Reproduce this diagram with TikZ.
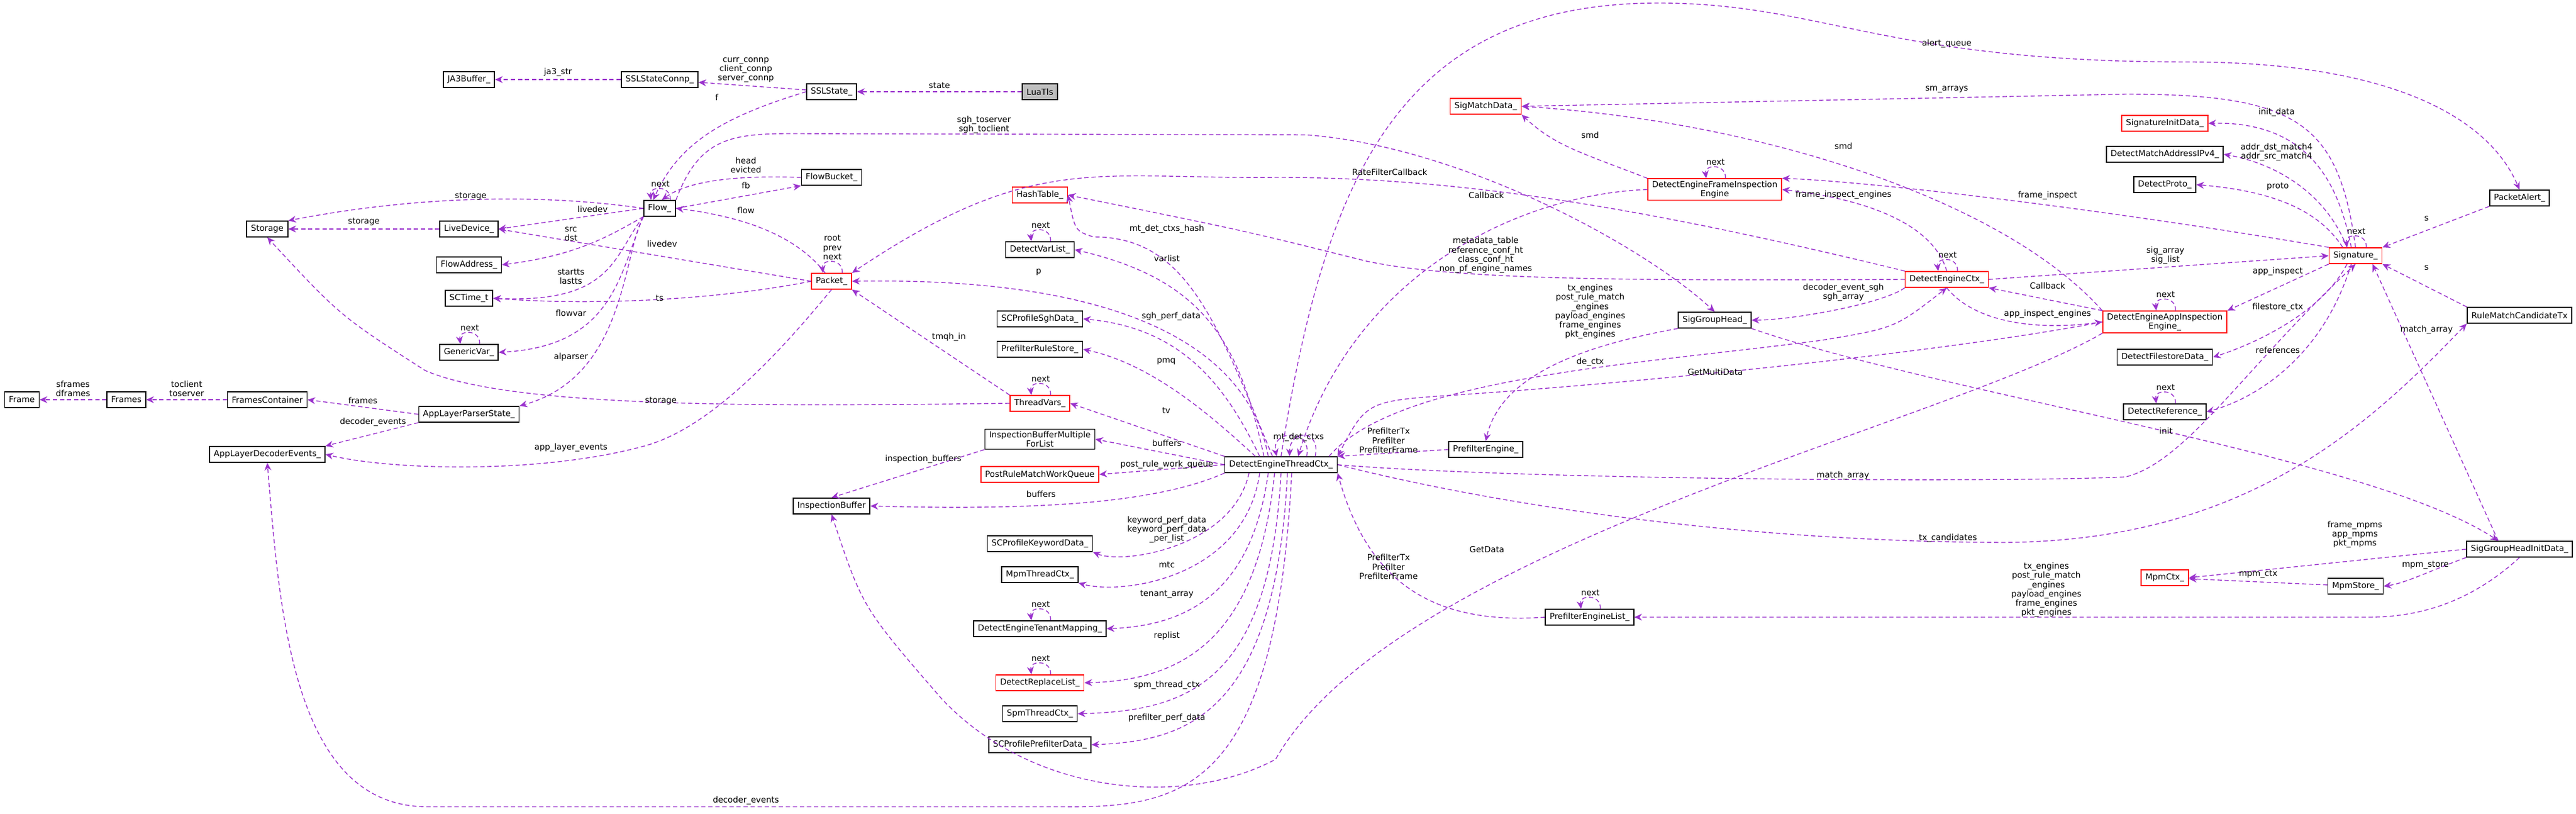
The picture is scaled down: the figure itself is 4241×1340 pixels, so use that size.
\documentclass[tikz,border=0pt]{standalone}
\usepackage{fontspec}
\setmainfont{DejaVu Sans}
\usetikzlibrary{arrows.meta,calc}

\definecolor{edgecol}{HTML}{9A32CD}
\definecolor{luafill}{HTML}{BFBFBF}

\tikzset{
  cls/.style={draw=black, line width=.45pt, fill=white, inner xsep=2pt, inner ysep=1pt,
    minimum height=0.26cm, align=center, font=\fontsize{3.9}{4.3}\selectfont},
  redcls/.style={cls, draw=red},
  rel/.style={draw=edgecol, dashed, dash pattern=on 2pt off 1.3pt, line width=.4pt,
    -{Stealth[length=3.6pt,width=3.2pt]}},
  lbl/.style={inner sep=0.4pt, align=center, font=\fontsize{3.9}{4.3}\selectfont}
}
\newcommand{\loopnext}[2]{%
  \draw[rel] ([xshift=5pt]#1.north) .. controls +(2,-24) and +(-3,-24) .. ([xshift=-4pt]#1.north)
    node[lbl,pos=0.5,above=0.5pt]{#2};}

\begin{document}
\begin{tikzpicture}[x=0.01cm,y=-0.01cm]
\useasboundingbox (0,0) rectangle (4241,1340);

% left part
\node[cls,fill=luafill] (luatls) at (1712,151) {LuaTls};
\node[cls] (sslstate) at (1369,151) {SSLState\_};
\node[cls] (sslconnp) at (1086,131) {SSLStateConnp\_};
\node[cls] (jabuf) at (772,131) {JA3Buffer\_};
\node[cls] (flow) at (1086,343) {Flow\_};
\node[cls] (flowbucket) at (1369,292) {FlowBucket\_};
\node[cls] (storage) at (440,377) {Storage};
\node[cls] (livedev) at (772,377) {LiveDevice\_};
\node[cls] (flowaddr) at (772,436) {FlowAddress\_};
\node[cls] (sctime) at (772,491) {SCTime\_t};
\node[cls] (genvar) at (772,580) {GenericVar\_};
\node[cls] (frame) at (36,658) {Frame};
\node[cls] (frames) at (208,658) {Frames};
\node[cls] (framescont) at (440,658) {FramesContainer};
\node[cls] (alpstate) at (772,682) {AppLayerParserState\_};
\node[cls] (aldecev) at (440,748) {AppLayerDecoderEvents\_};
\node[redcls] (packet) at (1369,463) {Packet\_};

% middle column
\node[redcls] (hashtab) at (1712,321) {HashTable\_};
\node[cls] (varlist) at (1712,411) {DetectVarList\_};
\node[cls] (sghdata) at (1712,525) {SCProfileSghData\_};
\node[cls] (rulestore) at (1712,575) {PrefilterRuleStore\_};
\node[redcls] (tvars) at (1712,664) {ThreadVars\_};
\node[cls] (ibmulti) at (1712,723) {InspectionBufferMultiple\\ForList};
\node[redcls] (prwq) at (1712,781) {PostRuleMatchWorkQueue};
\node[cls] (ibuf) at (1369,833) {InspectionBuffer};
\node[cls] (kwdata) at (1712,895) {SCProfileKeywordData\_};
\node[cls] (mpmtc) at (1712,946) {MpmThreadCtx\_};
\node[cls] (tenant) at (1712,1035) {DetectEngineTenantMapping\_};
\node[redcls] (replist) at (1712,1124) {DetectReplaceList\_};
\node[cls] (spmtc) at (1712,1175) {SpmThreadCtx\_};
\node[cls] (pfdata) at (1712,1226) {SCProfilePrefilterData\_};
\node[cls] (detc) at (2109,765) {DetectEngineThreadCtx\_};
\node[cls] (pfeng) at (2446,740) {PrefilterEngine\_};
\node[cls] (pflist) at (2617,1016) {PrefilterEngineList\_};

% right part
\node[redcls] (smdata) at (2446,175) {SigMatchData\_};
\node[redcls] (defie) at (2823,312) {DetectEngineFrameInspection\\Engine};
\node[cls] (sgh) at (2823,527) {SigGroupHead\_};
\node[redcls] (dec) at (3205,460) {DetectEngineCtx\_};
\node[redcls] (sid) at (3564,203) {SignatureInitData\_};
\node[cls] (dmaddr) at (3564,254) {DetectMatchAddressIPv4\_};
\node[cls] (dproto) at (3564,304) {DetectProto\_};
\node[redcls] (sig) at (3878,421) {Signature\_};
\node[cls] (palert) at (4148,326) {PacketAlert\_};
\node[cls] (rmctx) at (4148,519) {RuleMatchCandidateTx};
\node[redcls] (deaie) at (3564,530) {DetectEngineAppInspection\\Engine\_};
\node[cls] (dfsd) at (3564,588) {DetectFilestoreData\_};
\node[cls] (dref) at (3564,678) {DetectReference\_};
\node[redcls] (mpmctx) at (3564,951) {MpmCtx\_};
\node[cls] (mpmstore) at (3878,965) {MpmStore\_};
\node[cls] (sghinit) at (4148,904) {SigGroupHeadInitData\_};

% SSL and flow
\draw[rel] (luatls) -- (sslstate) node[lbl,midway,above=1pt]{state};
\draw[rel] (sslstate) -- (sslconnp);
\node[lbl] at (1228,115) {curr\_connp\\client\_connp\\server\_connp};
\draw[rel] (sslconnp) -- (jabuf) node[lbl,midway,above=1pt]{ja3\_str};
\draw[rel] (sslstate.west) .. controls (1200,190) and (1120,230) .. ([xshift=-3pt]flow.north);
\node[lbl] at (1180,160) {f};
\loopnext{flow}{next}
\draw[rel] (flowbucket.west) .. controls (1200,288) and (1130,300) .. ([xshift=1pt]flow.north);
\node[lbl] at (1228,272) {head\\evicted};
\draw[rel] (flow.east) -- (flowbucket.south west);
\node[lbl] at (1228,305) {fb};
\draw[rel] ([xshift=-3pt]packet.north) .. controls (1320,400) and (1250,360) .. (flow.east);
\node[lbl] at (1228,346) {flow};
\draw[rel] (flow.west) .. controls (900,320) and (700,320) .. (storage.north east);
\node[lbl] at (775,323) {storage};
\draw[rel] (flow.west) -- (livedev.east) node[lbl,pos=0.35,above=1pt]{livedev};
\draw[rel] (livedev) -- (storage) node[lbl,midway,above=1pt]{storage};
\draw[rel] (packet.west) -- (livedev.east);
\node[lbl] at (1090,401) {livedev};
\draw[rel] (flow.south west) .. controls (1000,390) and (950,420) .. (flowaddr.east);
\node[lbl] at (940,385) {src\\dst};
\draw[rel] (flow.south west) .. controls (1010,420) and (1010,500) .. (sctime.east);
\node[lbl] at (940,455) {startts\\lastts};
\draw[rel] (packet.west) .. controls (1200,490) and (1000,505) .. (sctime.east);
\node[lbl] at (1086,491) {ts};
\draw[rel] (flow.south west) .. controls (1020,450) and (1010,570) .. (genvar.east);
\node[lbl] at (940,515) {flowvar};
\loopnext{genvar}{next}
\draw[rel] (flow.south west) .. controls (1025,420) and (1030,620) .. (alpstate.north east);
\node[lbl] at (940,588) {alparser};
\draw[rel] (alpstate.west) -- (framescont.east) node[lbl,midway,above=1pt]{frames};
\draw[rel] (framescont) -- (frames) node[lbl,midway,above=1pt]{toclient\\toserver};
\draw[rel] (frames) -- (frame) node[lbl,midway,above=1pt]{sframes\\dframes};
\draw[rel] (alpstate.south west) -- (aldecev.north east);
\node[lbl] at (614,695) {decoder\_events};
\draw[rel] (packet.south) .. controls (1300,560) and (1180,700) .. (1065,733) .. controls (900,780) and (650,775) .. (aldecev.east);
\node[lbl] at (940,737) {app\_layer\_events};
\draw[rel] (tvars.west) .. controls (1300,668) and (850,675) .. (700,610) .. controls (560,520) .. (storage.south);
\node[lbl] at (1088,660) {storage};
\draw[rel] (tvars.north west) -- (packet.south east) node[lbl,midway,above right=0pt]{tmqh\_in};
\loopnext{tvars}{next}
\loopnext{packet}{root\\prev\\next}

% thread ctx
\draw[rel] ([xshift=-6pt]detc.north) .. controls (2060,600) and (1900,455) .. (packet.east);
\node[lbl] at (1710,448) {p};
\draw[rel] ([xshift=-4pt]detc.north) .. controls (2000,520) and (1950,390) .. (1800,390) .. controls (1770,380) .. (hashtab.east);
\node[lbl] at (1921,377) {mt\_det\_ctxs\_hash};
\draw[rel] ([xshift=-8pt]detc.north) .. controls (2040,560) and (1980,460) .. (varlist.east);
\node[lbl] at (1921,425) {varlist};
\loopnext{varlist}{next}
\draw[rel] ([xshift=-10pt]detc.north) .. controls (2020,640) and (1950,540) .. (sghdata.east);
\node[lbl] at (1928,521) {sgh\_perf\_data};
\draw[rel] ([xshift=-12pt]detc.north) .. controls (2000,690) and (1900,600) .. (rulestore.east);
\node[lbl] at (1920,595) {pmq};
\draw[rel] (detc.north west) -- (tvars.east);
\node[lbl] at (1920,676) {tv};
\draw[rel] (detc.west) -- (ibmulti.east);
\node[lbl] at (1921,729) {buffers};
\draw[rel] (detc.west) -- (prwq.east);
\node[lbl] at (1921,765) {post\_rule\_work\_queue};
\draw[rel] (detc.south west) .. controls (1900,830) and (1700,840) .. (ibuf.east);
\node[lbl] at (1714,813) {buffers};
\draw[rel] (ibmulti.south west) -- (ibuf.north);
\node[lbl] at (1520,756) {inspection\_buffers};
\draw[rel] ([xshift=-15pt]detc.south) .. controls (2030,900) and (1850,930) .. (kwdata.south east);
\node[lbl] at (1921,872) {keyword\_perf\_data\\keyword\_perf\_data\\\_per\_list};
\draw[rel] ([xshift=-10pt]detc.south) .. controls (2050,950) and (1850,980) .. (mpmtc.south east);
\node[lbl] at (1921,930) {mtc};
\draw[rel] ([xshift=-6pt]detc.south) .. controls (2060,980) and (1950,1030) .. (tenant.east);
\node[lbl] at (1921,978) {tenant\_array};
\loopnext{tenant}{next}
\draw[rel] ([xshift=-3pt]detc.south) .. controls (2070,1050) and (1950,1120) .. (replist.east);
\node[lbl] at (1921,1047) {replist};
\loopnext{replist}{next}
\draw[rel] (detc.south) .. controls (2090,1130) and (1950,1170) .. (spmtc.east);
\node[lbl] at (1921,1128) {spm\_thread\_ctx};
\draw[rel] ([xshift=3pt]detc.south) .. controls (2100,1180) and (1950,1220) .. (pfdata.east);
\node[lbl] at (1921,1182) {prefilter\_perf\_data};
\draw[rel] ([xshift=5pt]detc.south) .. controls (2100,1300) and (1950,1330) .. (1750,1328) -- (700,1328) .. controls (480,1325) and (460,1000) .. (aldecev.south);
\node[lbl] at (1228,1318) {decoder\_events};
\draw[rel] ([xshift=12pt]detc.north) .. controls +(10,-45) and +(-10,-45) .. ([xshift=-2pt]detc.north);
\draw[rel] ([xshift=16pt]detc.north) .. controls +(10,-45) and +(0,-45) .. ([xshift=4pt]detc.north);
\node[lbl] at (2138,720) {mt\_det\_ctxs};
\draw[rel] (pfeng.west) -- (detc.north east);
\node[lbl] at (2286,725) {PrefilterTx\\Prefilter\\PrefilterFrame};
\draw[rel] (pflist.west) .. controls (2350,1030) and (2250,950) .. (detc.south east);
\node[lbl] at (2286,933) {PrefilterTx\\Prefilter\\PrefilterFrame};
\loopnext{pflist}{next}
\draw[rel] (sgh.south west) .. controls (2600,570) and (2470,620) .. (pfeng.north);
\node[lbl] at (2618,513) {tx\_engines\\post\_rule\_match\\\_engines\\payload\_engines\\frame\_engines\\pkt\_engines};
\draw[rel] ([xshift=-4pt]detc.north east) .. controls (2300,620) and (2700,600) .. (3000,560) .. controls (3120,540) .. (dec.south);
\node[lbl] at (2618,596) {de\_ctx};
\draw[rel] (deaie.west) .. controls (3200,580) and (2700,630) .. (2400,650) .. controls (2250,660) .. (detc.north east);
\node[lbl] at (2824,612) {GetMultiData};
\draw[rel] (defie.west) .. controls (2500,320) and (2230,450) .. ([xshift=8pt]detc.north);
\node[lbl] at (2447,321) {Callback};
\draw[rel] (deaie.south west) .. controls (3200,700) and (2300,900) .. (2100,1250) .. controls (1950,1330) and (1700,1310) .. (1550,1150) .. controls (1420,1000) .. (ibuf.south);
\node[lbl] at (2448,905) {GetData};
\draw[rel] (detc.north) .. controls (2180,300) and (2300,5) .. (2730,5) .. controls (3000,5) and (3100,102) .. (3600,102) .. controls (3950,102) and (4100,200) .. (palert.north);
\node[lbl] at (3205,72) {alert\_queue};
\draw[rel] (detc.east) .. controls (2500,790) and (3300,795) .. (3500,785) .. controls (3600,760) and (3700,600) .. (sig.south);
\node[lbl] at (3034,783) {match\_array};
\draw[rel] (detc.east) .. controls (2500,840) and (2900,892) .. (3300,893) .. controls (3700,890) and (3900,700) .. (rmctx.south west);
\node[lbl] at (3207,886) {tx\_candidates};

% detect engine ctx and signatures
\draw[rel] (flow.north east) .. controls (1150,230) and (1200,220) .. (1300,220) -- (2150,222) .. controls (2400,240) and (2700,400) .. (sgh.north);
\node[lbl] at (1620,205) {sgh\_toserver\\sgh\_toclient};
\draw[rel] (dec.north west) .. controls (2700,340) and (2400,292) .. (2100,292) .. controls (1800,295) and (1700,250) .. (packet.north east);
\node[lbl] at (2288,283) {RateFilterCallback};
\draw[rel] (dec.west) .. controls (2700,462) and (2400,462) .. (2250,430) .. controls (2050,380) .. (hashtab.east);
\node[lbl] at (2446,420) {metadata\_table\\reference\_conf\_ht\\class\_conf\_ht\\non\_pf\_engine\_names};
\draw[rel] (defie.north west) .. controls (2600,250) and (2560,240) .. (smdata.south east);
\node[lbl] at (2618,222) {smd};
\loopnext{defie}{next}
\draw[rel] (dec.north) .. controls (3180,360) and (3050,325) .. (defie.east);
\node[lbl] at (3035,321) {frame\_inspect\_engines};
\draw[rel] (sig.north west) .. controls (3500,350) and (3100,300) .. (defie.north east);
\node[lbl] at (3371,322) {frame\_inspect};
\draw[rel] (deaie.north west) .. controls (3300,330) and (2900,200) .. (smdata.east);
\node[lbl] at (3035,240) {smd};
\draw[rel] (sig.north) .. controls (3850,200) and (3780,155) .. (3500,155) -- (smdata.east);
\node[lbl] at (3205,147) {sm\_arrays};
\draw[rel] (dec.south west) .. controls (3100,500) and (2950,527) .. (sgh.east);
\node[lbl] at (3035,481) {decoder\_event\_sgh\\sgh\_array};
\loopnext{dec}{next}
\draw[rel] (dec.east) -- (sig.west);
\node[lbl] at (3565,420) {sig\_array\\sig\_list};
\draw[rel] (deaie.north west) -- (dec.south east);
\node[lbl] at (3371,470) {Callback};
\draw[rel] (dec.south) .. controls (3250,530) and (3350,545) .. (deaie.west);
\node[lbl] at (3371,517) {app\_inspect\_engines};
\draw[rel] (sig.south west) -- (deaie.north east);
\node[lbl] at (3750,447) {app\_inspect};
\loopnext{deaie}{next}
\draw[rel] ([xshift=-2pt]sig.north) .. controls (3850,300) and (3800,200) .. (sid.east);
\node[lbl] at (3748,185) {init\_data};
\draw[rel] ([xshift=-4pt]sig.north) .. controls (3830,320) and (3750,270) .. (dmaddr.east);
\node[lbl] at (3748,250) {addr\_dst\_match4\\addr\_src\_match4};
\draw[rel] ([xshift=-6pt]sig.north) .. controls (3820,350) and (3750,315) .. (dproto.east);
\node[lbl] at (3750,307) {proto};
\loopnext{sig}{next}
\draw[rel] ([xshift=-4pt]sig.south) .. controls (3820,520) and (3700,570) .. (dfsd.east);
\node[lbl] at (3750,506) {filestore\_ctx};
\draw[rel] ([xshift=-2pt]sig.south) .. controls (3820,600) and (3700,660) .. (dref.east);
\node[lbl] at (3750,576) {references};
\loopnext{dref}{next}
\draw[rel] (palert.south west) -- (sig.north east);
\node[lbl] at (3995,360) {s};
\draw[rel] (rmctx.north west) -- (sig.south east);
\node[lbl] at (3995,441) {s};
\draw[rel] ([xshift=-10pt]sghinit.north) -- ([xshift=8pt]sig.south);
\node[lbl] at (3995,543) {match\_array};
\draw[rel] (sgh.south east) .. controls (3200,650) and (3900,750) .. ([xshift=-10pt]sghinit.north);
\node[lbl] at (3566,709) {init};
\draw[rel] (sghinit.west) -- (mpmctx.east);
\node[lbl] at (3877,880) {frame\_mpms\\app\_mpms\\pkt\_mpms};
\draw[rel] (sghinit.south west) .. controls (4000,940) and (3960,960) .. (mpmstore.east);
\node[lbl] at (3993,930) {mpm\_store};
\draw[rel] (mpmstore) -- (mpmctx) node[lbl,midway,above=1pt]{mpm\_ctx};
\draw[rel] (sghinit.south) .. controls (4080,980) and (4000,1016) .. (3900,1016) -- (pflist.east);
\node[lbl] at (3369,971) {tx\_engines\\post\_rule\_match\\\_engines\\payload\_engines\\frame\_engines\\pkt\_engines};
\end{tikzpicture}
\end{document}
